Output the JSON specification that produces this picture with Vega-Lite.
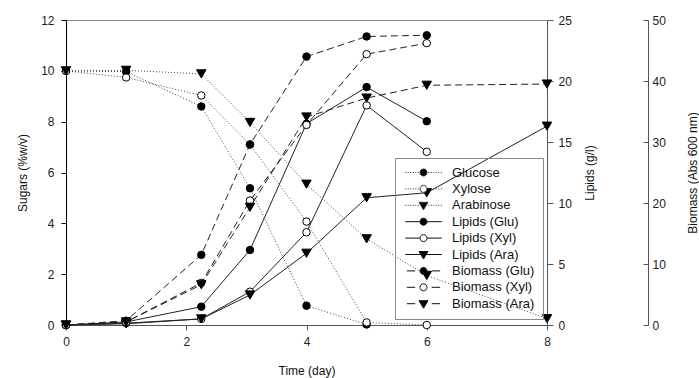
{
  "$schema": "https://vega.github.io/schema/vega-lite/v6.json",
  "width": 481,
  "height": 305,
  "autosize": {"type": "none"},
  "padding": {"left": 66, "top": 20, "right": 152, "bottom": 53},
  "config": {
    "font": "Liberation Sans",
    "view": {"stroke": "#888", "strokeWidth": 1},
    "axis": {"grid": false, "labelFontSize": 12, "titleFontSize": 12, "titleFontWeight": "normal", "labelColor": "#222", "titleColor": "#111", "labelFlush": false, "labelOverlap": false, "domainColor": "#555", "tickColor": "#555"}
  },
  "data": {"values": [
    {"series": "Glucose", "day": 0, "value": 10},
    {"series": "Glucose", "day": 1, "value": 9.97},
    {"series": "Glucose", "day": 2.25, "value": 8.6},
    {"series": "Glucose", "day": 3.06, "value": 5.38},
    {"series": "Glucose", "day": 4, "value": 0.76},
    {"series": "Glucose", "day": 5, "value": 0.02},
    {"series": "Xylose", "day": 0, "value": 10},
    {"series": "Xylose", "day": 1, "value": 9.74},
    {"series": "Xylose", "day": 2.25, "value": 9.03},
    {"series": "Xylose", "day": 3.06, "value": 7.1},
    {"series": "Xylose", "day": 4, "value": 4.07},
    {"series": "Xylose", "day": 5, "value": 0.1},
    {"series": "Xylose", "day": 6, "value": 0.0},
    {"series": "Arabinose", "day": 0, "value": 10},
    {"series": "Arabinose", "day": 1, "value": 10.02},
    {"series": "Arabinose", "day": 2.25, "value": 9.88},
    {"series": "Arabinose", "day": 3.06, "value": 7.97},
    {"series": "Arabinose", "day": 4, "value": 5.54},
    {"series": "Arabinose", "day": 5, "value": 3.39},
    {"series": "Arabinose", "day": 6, "value": 1.95},
    {"series": "Arabinose", "day": 8, "value": 0.25},
    {"series": "Lipids (Glu)", "day": 0, "value": 0},
    {"series": "Lipids (Glu)", "day": 1, "value": 0.25},
    {"series": "Lipids (Glu)", "day": 2.25, "value": 1.5},
    {"series": "Lipids (Glu)", "day": 3.06, "value": 6.15},
    {"series": "Lipids (Glu)", "day": 4, "value": 16.5},
    {"series": "Lipids (Glu)", "day": 5, "value": 19.5},
    {"series": "Lipids (Glu)", "day": 6, "value": 16.7},
    {"series": "Lipids (Xyl)", "day": 0, "value": 0},
    {"series": "Lipids (Xyl)", "day": 1, "value": 0.15},
    {"series": "Lipids (Xyl)", "day": 2.25, "value": 0.5},
    {"series": "Lipids (Xyl)", "day": 3.06, "value": 2.73},
    {"series": "Lipids (Xyl)", "day": 4, "value": 7.6},
    {"series": "Lipids (Xyl)", "day": 5, "value": 18.0},
    {"series": "Lipids (Xyl)", "day": 6, "value": 14.2},
    {"series": "Lipids (Ara)", "day": 0, "value": 0},
    {"series": "Lipids (Ara)", "day": 1, "value": 0.1},
    {"series": "Lipids (Ara)", "day": 2.25, "value": 0.5},
    {"series": "Lipids (Ara)", "day": 3.06, "value": 2.46},
    {"series": "Lipids (Ara)", "day": 4, "value": 5.88},
    {"series": "Lipids (Ara)", "day": 5, "value": 10.43},
    {"series": "Lipids (Ara)", "day": 6, "value": 10.84},
    {"series": "Lipids (Ara)", "day": 8, "value": 16.3},
    {"series": "Biomass (Glu)", "day": 0, "value": 0},
    {"series": "Biomass (Glu)", "day": 1, "value": 0.7},
    {"series": "Biomass (Glu)", "day": 2.25, "value": 11.5},
    {"series": "Biomass (Glu)", "day": 3.06, "value": 29.6},
    {"series": "Biomass (Glu)", "day": 4, "value": 44},
    {"series": "Biomass (Glu)", "day": 5, "value": 47.3},
    {"series": "Biomass (Glu)", "day": 6, "value": 47.5},
    {"series": "Biomass (Xyl)", "day": 0, "value": 0},
    {"series": "Biomass (Xyl)", "day": 1, "value": 0.5},
    {"series": "Biomass (Xyl)", "day": 2.25, "value": 6.9},
    {"series": "Biomass (Xyl)", "day": 3.06, "value": 20.4},
    {"series": "Biomass (Xyl)", "day": 4, "value": 32.8},
    {"series": "Biomass (Xyl)", "day": 5, "value": 44.4},
    {"series": "Biomass (Xyl)", "day": 6, "value": 46.2},
    {"series": "Biomass (Ara)", "day": 0, "value": 0},
    {"series": "Biomass (Ara)", "day": 1, "value": 0.5},
    {"series": "Biomass (Ara)", "day": 2.25, "value": 6.6},
    {"series": "Biomass (Ara)", "day": 3.06, "value": 19.3},
    {"series": "Biomass (Ara)", "day": 4, "value": 34.1},
    {"series": "Biomass (Ara)", "day": 5, "value": 37.2},
    {"series": "Biomass (Ara)", "day": 6, "value": 39.3},
    {"series": "Biomass (Ara)", "day": 8, "value": 39.5}
  ]},
  "encoding": {
    "x": {"field": "day", "type": "quantitative", "scale": {"domain": [0, 8], "nice": false},
      "axis": {"values": [0, 2, 4, 6, 8], "title": "Time (day)", "tickSize": 5, "labelPadding": 6, "titlePadding": 18}}
  },
  "layer": [
    {
      "transform": [{"filter": {"field": "series", "oneOf": ["Glucose", "Xylose", "Arabinose"]}}],
      "encoding": {
        "y": {"field": "value", "type": "quantitative", "scale": {"domain": [0, 12], "nice": false},
          "axis": {"orient": "left", "values": [0, 2, 4, 6, 8, 10, 12], "title": "Sugars (%w/v)", "domainColor": "#000", "tickColor": "#000", "tickSize": 5, "labelPadding": 7, "titlePadding": 11}}
      },
      "layer": [
        {"mark": {"type": "line", "stroke": "#444", "strokeWidth": 1, "strokeDash": [1, 2]}, "encoding": {"detail": {"field": "series"}}},
        {"transform": [{"filter": {"field": "series", "equal": "Glucose"}}], "mark": {"type": "point", "shape": "circle", "filled": true, "fill": "#000", "stroke": "#000", "strokeWidth": 1, "size": 56, "opacity": 1}},
        {"transform": [{"filter": {"field": "series", "equal": "Xylose"}}], "mark": {"type": "point", "shape": "circle", "filled": true, "fill": "#fff", "stroke": "#000", "strokeWidth": 1, "size": 56, "opacity": 1}},
        {"transform": [{"filter": {"field": "series", "equal": "Arabinose"}}], "mark": {"type": "point", "shape": "triangle-down", "filled": true, "fill": "#000", "stroke": "#000", "strokeWidth": 1, "size": 90, "opacity": 1}},
        {
          "transform": [{"filter": "datum.day < 0"}],
          "mark": {"type": "point", "filled": true, "strokeWidth": 1, "opacity": 1},
          "encoding": {
            "shape": {"field": "series", "type": "nominal",
              "scale": {"domain": ["Glucose", "Xylose", "Arabinose", "Lipids (Glu)", "Lipids (Xyl)", "Lipids (Ara)", "Biomass (Glu)", "Biomass (Xyl)", "Biomass (Ara)"],
                "range": [
                  "M-3.66,0L-3.46,0M-3.16,0L-2.96,0M-2.66,0L-2.46,0M-2.16,0L-1.96,0M-1.66,0L-1.46,0M-1.16,0L-0.96,0M0.96,0L1.16,0M1.46,0L1.66,0M1.96,0L2.16,0M2.46,0L2.66,0M2.96,0L3.16,0M3.46,0L3.66,0M-0.7,0A0.7,0.7,0,1,0,0.7,0A0.7,0.7,0,1,0,-0.7,0Z",
                  "M-3.66,0L-3.46,0M-3.16,0L-2.96,0M-2.66,0L-2.46,0M-2.16,0L-1.96,0M-1.66,0L-1.46,0M-1.16,0L-0.96,0M0.96,0L1.16,0M1.46,0L1.66,0M1.96,0L2.16,0M2.46,0L2.66,0M2.96,0L3.16,0M3.46,0L3.66,0M-0.7,0A0.7,0.7,0,1,0,0.7,0A0.7,0.7,0,1,0,-0.7,0Z",
                  "M-3.66,0L-3.46,0M-3.16,0L-2.96,0M-2.66,0L-2.46,0M-2.16,0L-1.96,0M-1.66,0L-1.46,0M-1.16,0L-0.96,0M0.96,0L1.16,0M1.46,0L1.66,0M1.96,0L2.16,0M2.46,0L2.66,0M2.96,0L3.16,0M3.46,0L3.66,0M-0.9,-0.6L0.9,-0.6L0,0.9Z",
                  "M-3.66,0L-0.7,0M0.7,0L3.66,0M-0.7,0A0.7,0.7,0,1,0,0.7,0A0.7,0.7,0,1,0,-0.7,0Z",
                  "M-3.66,0L-0.7,0M0.7,0L3.66,0M-0.7,0A0.7,0.7,0,1,0,0.7,0A0.7,0.7,0,1,0,-0.7,0Z",
                  "M-3.66,0L-0.5,0M0.5,0L3.66,0M-0.9,-0.6L0.9,-0.6L0,0.9Z",
                  "M-3.33,0L-1.66,0M1.66,0L3.33,0M-0.7,0A0.7,0.7,0,1,0,0.7,0A0.7,0.7,0,1,0,-0.7,0Z",
                  "M-3.33,0L-1.66,0M1.66,0L3.33,0M-0.7,0A0.7,0.7,0,1,0,0.7,0A0.7,0.7,0,1,0,-0.7,0Z",
                  "M-3.33,0L-1.66,0M1.66,0L3.33,0M-0.9,-0.6L0.9,-0.6L0,0.9Z"
                ]},
              "legend": {"title": null, "orient": "none", "legendX": 329, "legendY": 138, "padding": 8, "strokeColor": "#888", "symbolSize": 100, "symbolStrokeWidth": 1, "symbolOpacity": 1, "labelFontSize": 13, "labelColor": "#111", "labelOffset": 22, "symbolOffset": 14, "rowPadding": 2.4, "labelLimit": 200}
            },
            "fill": {"field": "series", "type": "nominal",
              "scale": {"domain": ["Glucose", "Xylose", "Arabinose", "Lipids (Glu)", "Lipids (Xyl)", "Lipids (Ara)", "Biomass (Glu)", "Biomass (Xyl)", "Biomass (Ara)"],
                "range": ["#000", "#fff", "#000", "#000", "#fff", "#000", "#000", "#fff", "#000"]}},
            "stroke": {"field": "series", "type": "nominal",
              "scale": {"domain": ["Glucose", "Xylose", "Arabinose", "Lipids (Glu)", "Lipids (Xyl)", "Lipids (Ara)", "Biomass (Glu)", "Biomass (Xyl)", "Biomass (Ara)"],
                "range": ["#333", "#333", "#333", "#111", "#111", "#111", "#111", "#111", "#111"]}}
          }
        }
      ]
    },
    {
      "transform": [{"filter": {"field": "series", "oneOf": ["Lipids (Glu)", "Lipids (Xyl)", "Lipids (Ara)"]}}],
      "encoding": {
        "y": {"field": "value", "type": "quantitative", "scale": {"domain": [0, 25], "nice": false},
          "axis": {"orient": "right", "values": [0, 5, 10, 15, 20, 25], "title": "Lipids (g/l)", "titleAngle": 270, "tickSize": 6, "labelPadding": 5, "titlePadding": 25}}
      },
      "layer": [
        {"mark": {"type": "line", "stroke": "#222", "strokeWidth": 1}, "encoding": {"detail": {"field": "series"}}},
        {"transform": [{"filter": {"field": "series", "equal": "Lipids (Glu)"}}], "mark": {"type": "point", "shape": "circle", "filled": true, "fill": "#000", "stroke": "#000", "strokeWidth": 1, "size": 56, "opacity": 1}},
        {"transform": [{"filter": {"field": "series", "equal": "Lipids (Xyl)"}}], "mark": {"type": "point", "shape": "circle", "filled": true, "fill": "#fff", "stroke": "#000", "strokeWidth": 1, "size": 56, "opacity": 1}},
        {"transform": [{"filter": {"field": "series", "equal": "Lipids (Ara)"}}], "mark": {"type": "point", "shape": "triangle-down", "filled": true, "fill": "#000", "stroke": "#000", "strokeWidth": 1, "size": 90, "opacity": 1}}
      ]
    },
    {
      "transform": [{"filter": {"field": "series", "oneOf": ["Biomass (Glu)", "Biomass (Xyl)", "Biomass (Ara)"]}}],
      "encoding": {
        "y": {"field": "value", "type": "quantitative", "scale": {"domain": [0, 50], "nice": false},
          "axis": {"orient": "right", "offset": 101, "values": [0, 10, 20, 30, 40, 50], "title": "Biomass (Abs 600 nm)", "titleAngle": 270, "tickSize": -5, "labelPadding": 9, "titlePadding": 34}}
      },
      "layer": [
        {"mark": {"type": "line", "stroke": "#222", "strokeWidth": 1, "strokeDash": [7, 4]}, "encoding": {"detail": {"field": "series"}}},
        {"transform": [{"filter": {"field": "series", "equal": "Biomass (Glu)"}}], "mark": {"type": "point", "shape": "circle", "filled": true, "fill": "#000", "stroke": "#000", "strokeWidth": 1, "size": 56, "opacity": 1}},
        {"transform": [{"filter": {"field": "series", "equal": "Biomass (Xyl)"}}], "mark": {"type": "point", "shape": "circle", "filled": true, "fill": "#fff", "stroke": "#000", "strokeWidth": 1, "size": 56, "opacity": 1}},
        {"transform": [{"filter": {"field": "series", "equal": "Biomass (Ara)"}}], "mark": {"type": "point", "shape": "triangle-down", "filled": true, "fill": "#000", "stroke": "#000", "strokeWidth": 1, "size": 90, "opacity": 1}}
      ]
    }
  ],
  "resolve": {"scale": {"y": "independent"}}
}
